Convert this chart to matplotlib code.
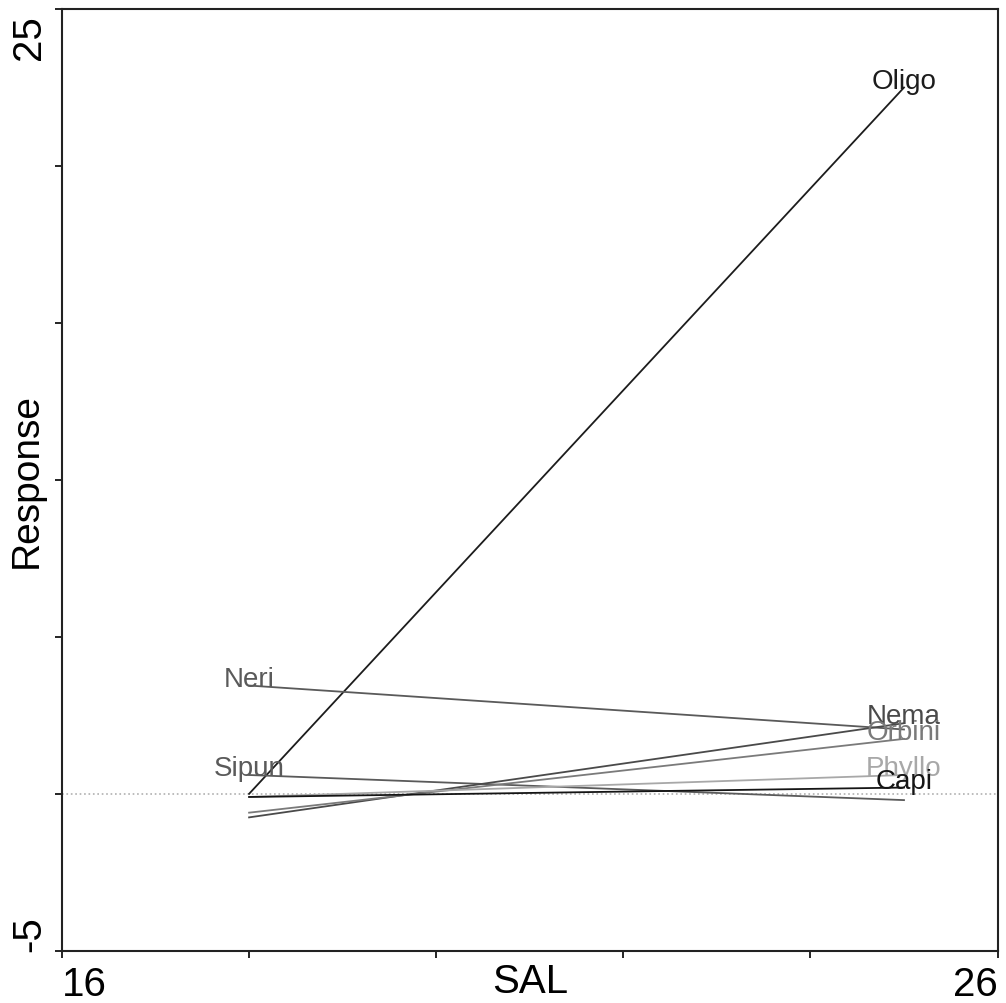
import matplotlib
matplotlib.use('Agg')
import matplotlib.pyplot as plt
import matplotlib.transforms as mtransforms

# response curves along salinity (SAL), start/end values
species = ['Oligo', 'Neri', 'Sipun', 'Nema', 'Orbini', 'Phyllo', 'Capi']
sal_range = [18, 25]
resp_start = [0.0, 3.45, 0.6, -0.75, -0.6, -0.1, -0.1]
resp_end = [22.5, 2.05, -0.2, 2.25, 1.75, 0.6, 0.2]
label_at = ['end', 'start', 'start', 'end', 'end', 'end', 'end']

xticks = [16, 18, 20, 22, 24, 26]
yticks = [-5, 0, 5, 10, 15, 20, 25]

colors = {
    'Oligo': '#1c1c1c', 'Neri': '#5a5a5a', 'Sipun': '#5a5a5a',
    'Nema': '#4a4a4a', 'Orbini': '#7a7a7a', 'Phyllo': '#a8a8a8',
    'Capi': '#151515',
}

plt.rcParams['font.family'] = ['Liberation Sans', 'DejaVu Sans']

fig = plt.figure(figsize=(10.06, 10.04), dpi=100)
ax = fig.add_axes([0.0616, 0.052, 0.930, 0.938])

ax.axhline(0, color='#b0b0b0', linestyle=':', linewidth=1.2, zorder=1)

for name, y0, y1, where in zip(species, resp_start, resp_end, label_at):
    c = colors[name]
    ax.plot(sal_range, [y0, y1], color=c, linewidth=1.3, zorder=2)
    if where == 'end':
        tx, ty = sal_range[1], y1
    else:
        tx, ty = sal_range[0], y0
    ax.text(tx, ty, name, ha='center', va='baseline', fontsize=20, color=c, zorder=3)

ax.set_xlim(xticks[0], xticks[-1])
ax.set_ylim(yticks[0], yticks[-1])

ax.set_xticks(xticks)
ax.set_xticklabels([str(xticks[0])] + [''] * (len(xticks) - 2) + [str(xticks[-1])])
ax.set_yticks(yticks)
ax.set_yticklabels([str(yticks[0])] + [''] * (len(yticks) - 2) + [str(yticks[-1])])

ax.tick_params(direction='out', length=5, width=1.2, labelsize=29, pad=5)
xl = ax.get_xticklabels()
xl[0].set_ha('left')
xl[-1].set_ha('right')
yl = ax.get_yticklabels()
for t in yl:
    t.set_rotation(90)
yl[0].set_va('bottom')
yl[-1].set_va('top')

# nudge the top label a bit down like the original
offset = mtransforms.ScaledTranslation(0, -5 / 100, fig.dpi_scale_trans)
yl[-1].set_transform(yl[-1].get_transform() + offset)

trans = mtransforms.blended_transform_factory(ax.transAxes, ax.transAxes)
ax.text(0.5, -0.012, 'SAL', transform=trans, ha='center', va='top', fontsize=29)
ax.set_ylabel('Response', fontsize=28)
ax.yaxis.set_label_coords(-0.018, 0.5)

for s in ax.spines.values():
    s.set_linewidth(1.5)
    s.set_color('#222222')

fig.savefig('out.png', dpi=100)
